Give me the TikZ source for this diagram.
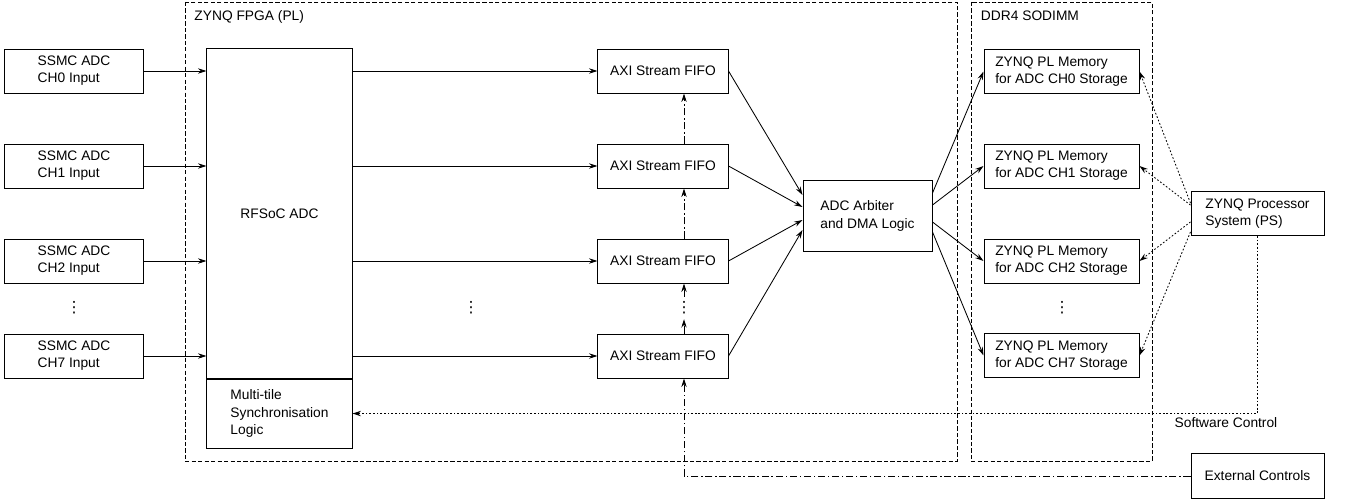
\documentclass[tikz,border=0pt]{standalone}
\usepackage{fontspec}
\setmainfont{Liberation Sans}
\newfontfamily\simbolos{DejaVu Sans}
\usepackage{tikz}
\usetikzlibrary{arrows.meta}

% puntos verticales
\newcommand{\puntos}{{\simbolos\fontsize{11}{12}\selectfont ⋮}}

\begin{document}
\begin{tikzpicture}[x=0.025cm, y=-0.025cm,
        font=\fontsize{9.8}{12.2}\selectfont,
        caja/.style={draw, line width=0.7pt, align=left, minimum height=1.1cm, inner sep=2pt},
        flecha/.style={-{Stealth[length=6pt,width=3.8pt]}, line width=0.6pt},
        control/.style={flecha, dash pattern=on 5pt off 2pt on 1pt off 2pt},
        software/.style={flecha, dash pattern=on 1.2pt off 1.4pt},
        region/.style={draw, line width=0.6pt, dash pattern=on 3pt off 1.6pt}]
        \useasboundingbox (0,0) rectangle (1348,499);

        % Regiones
        \draw[region] (185,2) rectangle (957,461);
        \draw[region] (971,2) rectangle (1152,461);
        \node[anchor=west] (plname) at (189.5,17) {ZYNQ FPGA (PL)};
        \node[anchor=west] (ddrname) at (976,16) {DDR4 SODIMM};

        % Bloques
        \foreach \i/\y in {0/71,1/166,2/261,7/356}
            \node[caja, minimum width=3.45cm] (in\i) at (74,\y) {SSMC ADC\\CH\i{} Input};
        \node[caja, minimum width=3.625cm, minimum height=8.225cm] (adc) at (279.5,213.5) {RFSoC ADC};
        \node[caja, minimum width=3.625cm, minimum height=1.725cm, anchor=north] (mts) at (adc.south) {Multi-tile\\Synchronisation\\Logic};
        \foreach \i/\y in {0/71,1/166,2/261,7/356}
            \node[caja, minimum width=3.25cm] (fifo\i) at (663,\y) {AXI Stream FIFO};
        \node[caja, minimum width=3.225cm, minimum height=1.75cm] (arb) at (867.5,216) {ADC Arbiter\\and DMA Logic};
        \foreach \i/\y in {0/71.5,1/166,2/261,7/355.5}
            \node[caja, minimum width=3.875cm] (mem\i) at (1061.5,\y) {ZYNQ PL Memory\\for ADC CH\i{} Storage};
        \node[caja, minimum width=3.325cm] (ps) at (1257.5,213.5) {ZYNQ Processor\\System (PS)};
        \node[caja, minimum width=3.325cm, minimum height=1.125cm] (ext) at (1257.5,476) {External Controls};

        % Puntos
        \node (indots) at (74,308) {\puntos};
        \node (adcdots) at (471,308) {\puntos};
        \node (memdots) at (1062,308) {\puntos};
        \node (fdots) at (684,308) {\puntos};

        % Flujo de datos
        \foreach \i in {0,1,2,7} {
            \draw[flecha] (in\i) -- (in\i -| adc.west);
            \draw[flecha] (fifo\i -| adc.east) -- (fifo\i);
        }
        \foreach \i/\d in {0/0.525,1/0.225,2/-0.1,7/-0.35}
            \draw[flecha] (fifo\i.east) -- ([yshift=\d cm]arb.west);
        \foreach \i/\d in {0/0.575,1/0.275,2/-0.15,7/-0.4}
            \draw[flecha] ([yshift=\d cm]arb.east) -- (mem\i.west);

        % Controles externos
        \coordinate (ctlx) at (684,0);
        \draw[control] (fifo1.north -| ctlx) -- (fifo0.south -| ctlx);
        \draw[control] (fifo2.north -| ctlx) -- (fifo1.south -| ctlx);
        \draw[control] (fifo7.north -| ctlx) -- (fdots);
        \draw[control] (fdots) -- (fifo2.south -| ctlx);
        \draw[control] (ext) -| (fifo7.south -| ctlx);

        % Control por software
        \draw[software] (ps.south) |- (mts.east);
        \node (swlabel) at (1226,423) {Software Control};
        \foreach \i/\d in {0/0.26,1/0.21,2/-0.21,7/-0.46}
            \draw[software] ([yshift=\d cm]ps.west) -- (mem\i.east);
    \end{tikzpicture}
\end{document}
